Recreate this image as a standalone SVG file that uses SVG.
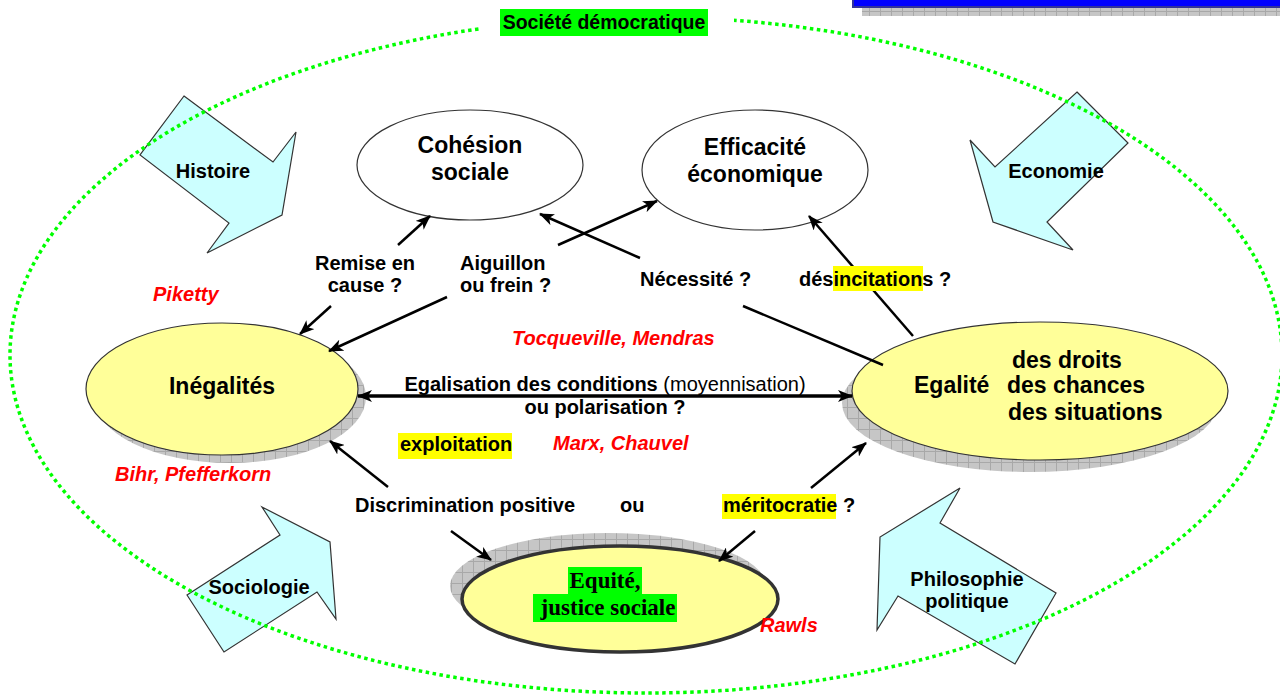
<svg xmlns="http://www.w3.org/2000/svg" width="1280" height="697" viewBox="0 0 1280 697">
<style>
.t{font-family:"Liberation Sans",Arial,sans-serif;font-weight:bold;font-size:20px;fill:#000}
.big{font-size:23px}
.red{fill:#ff0000;font-style:italic}
.serif{font-family:"Liberation Serif","Times New Roman",serif;font-weight:bold;font-size:23px;fill:#000}
.arrowshape{fill:#ccffff;stroke:#333;stroke-width:1.2}
.yel{fill:#ffff99}
.hl{fill:#ffff00}
.gr{fill:#00ff00}
.conn line{stroke:#000;stroke-width:2.5}
</style>
<defs>
<pattern id="grid" width="11" height="11" patternUnits="userSpaceOnUse">
<rect width="11" height="11" fill="#c6c6c6"/>
<path d="M0,0.5H11M0.5,0V11" stroke="#a8a8a8" stroke-width="1"/>
</pattern>
<marker id="ah" markerWidth="15" markerHeight="12" refX="14" refY="6" orient="auto-start-reverse" markerUnits="userSpaceOnUse">
<path d="M0,0 L15,6 L0,12 L4,6 z" fill="#000"/>
</marker>
</defs>
<rect width="1280" height="697" fill="#fff"/>

<g id="topbar">
<rect x="862" y="7" width="420" height="9" fill="url(#grid)"/>
<rect x="853" y="-3" width="430" height="10" fill="#0000ff" stroke="#333399" stroke-width="2"/>
</g>

<g id="histoire">
<polygon class="arrowshape" points="184,96 273,162 296,132 282,215 207,253 229,223 140,155"/>
<text class="t" x="213" y="178" text-anchor="middle">Histoire</text>
</g>
<g id="economie">
<polygon class="arrowshape" points="1077,92 1128,143 1047,222 1073,250 993,222 970,140 995,167"/>
<text class="t" x="1056" y="178" text-anchor="middle">Economie</text>
</g>
<g id="sociologie">
<polygon class="arrowshape" points="187,595 280,535 262,507 330,542 336,619 317,592 224,652"/>
<text class="t" x="259" y="594" text-anchor="middle">Sociologie</text>
</g>
<g id="philosophie">
<polygon class="arrowshape" points="960,488 940,523 1056,593 1015,664 898,596 877,630 880,537"/>
<text class="t" x="967" y="586" text-anchor="middle">Philosophie</text>
<text class="t" x="967" y="608" text-anchor="middle">politique</text>
</g>

<g id="societe">
<ellipse cx="646" cy="355" rx="636" ry="338" fill="none" stroke="#00ff00" stroke-width="3.5" stroke-dasharray="3.5 3.5"/>
<rect x="479" y="3" width="255" height="40" fill="#fff"/>
<rect class="gr" x="500" y="9" width="208" height="27"/>
<text class="t" x="604" y="29" text-anchor="middle" style="font-size:19.5px">Société démocratique</text>
</g>

<g id="cohesion">
<ellipse cx="470" cy="165" rx="113" ry="55" fill="#fff" stroke="#333" stroke-width="1.2"/>
<text class="t big" x="470" y="153" text-anchor="middle">Cohésion</text>
<text class="t big" x="470" y="180" text-anchor="middle">sociale</text>
</g>
<g id="efficacite">
<ellipse cx="755" cy="170" rx="113" ry="60" fill="#fff" stroke="#333" stroke-width="1.2"/>
<text class="t big" x="755" y="155" text-anchor="middle">Efficacité</text>
<text class="t big" x="755" y="182" text-anchor="middle">économique</text>
</g>

<g id="inegalites">
<ellipse cx="230" cy="397" rx="136" ry="66" fill="url(#grid)"/>
<ellipse cx="222" cy="389" rx="136" ry="66" class="yel" stroke="#333" stroke-width="1.2"/>
<text class="t big" x="222" y="394" text-anchor="middle">Inégalités</text>
</g>

<g id="egalite">
<ellipse cx="1030" cy="403" rx="188" ry="69" fill="url(#grid)"/>
<ellipse cx="1040" cy="391" rx="188" ry="69" class="yel" stroke="#333" stroke-width="1.2"/>
<text class="t big" x="1012" y="368">des droits</text>
<text class="t big" x="914" y="393">Egalité</text>
<text class="t big" x="1007" y="393">des chances</text>
<text class="t big" x="1008" y="420">des situations</text>
</g>

<g id="equite">
<ellipse cx="608" cy="586" rx="158" ry="53" fill="url(#grid)"/>
<ellipse cx="620" cy="599" rx="158" ry="53" class="yel" stroke="#333" stroke-width="3.5"/>
<rect class="gr" x="568" y="567" width="74" height="27"/>
<rect class="gr" x="533" y="594" width="144" height="28"/>
<text class="serif" x="605" y="588" text-anchor="middle">Equité,</text>
<text class="serif" x="608" y="615" text-anchor="middle">justice sociale</text>
</g>

<g id="connectors" class="conn">
<line x1="398" y1="245" x2="430" y2="216" marker-end="url(#ah)"/>
<line x1="331" y1="306" x2="300" y2="334" marker-end="url(#ah)"/>
<line x1="558" y1="245" x2="657" y2="201" marker-end="url(#ah)"/>
<line x1="447" y1="297" x2="329" y2="351" marker-end="url(#ah)"/>
<line x1="640" y1="258" x2="540" y2="214" marker-end="url(#ah)"/>
<line x1="743" y1="306" x2="883" y2="365"/>
<line x1="913" y1="336" x2="809" y2="216" marker-end="url(#ah)"/>
<line x1="358" y1="396" x2="852" y2="396" style="stroke-width:3.5" marker-start="url(#ah)" marker-end="url(#ah)"/>
<line x1="388" y1="487" x2="330" y2="441" marker-end="url(#ah)"/>
<line x1="811" y1="488" x2="866" y2="443" marker-end="url(#ah)"/>
<line x1="451" y1="531" x2="491" y2="560" marker-end="url(#ah)"/>
<line x1="755" y1="531" x2="719" y2="561" marker-end="url(#ah)"/>
</g>

<g id="labels">
<text class="t" x="365" y="270" text-anchor="middle">Remise en</text>
<text class="t" x="365" y="292" text-anchor="middle">cause ?</text>
<text class="t" x="460" y="270">Aiguillon</text>
<text class="t" x="460" y="292">ou frein ?</text>
<text class="t" x="640" y="286">Nécessité ?</text>
<rect class="hl" x="833" y="266" width="90" height="25"/>
<text class="t" x="799" y="286">désincitations ?</text>
<text class="t red" x="153" y="301">Piketty</text>
<text class="t red" x="512" y="345">Tocqueville, Mendras</text>
<text class="t" x="605" y="391" text-anchor="middle">Egalisation des conditions <tspan font-weight="normal">(moyennisation)</tspan></text>
<text class="t" x="605" y="414" text-anchor="middle">ou polarisation ?</text>
<rect class="hl" x="398" y="433" width="114" height="26"/>
<text class="t" x="400" y="451">exploitation</text>
<text class="t red" x="553" y="450">Marx, Chauvel</text>
<text class="t red" x="115" y="481">Bihr, Pfefferkorn</text>
<text class="t" x="355" y="512">Discrimination positive</text>
<text class="t" x="620" y="512">ou</text>
<rect class="hl" x="722" y="494" width="114" height="25"/>
<text class="t" x="723" y="512">méritocratie ?</text>
<text class="t red" x="760" y="632">Rawls</text>
</g>
</svg>
